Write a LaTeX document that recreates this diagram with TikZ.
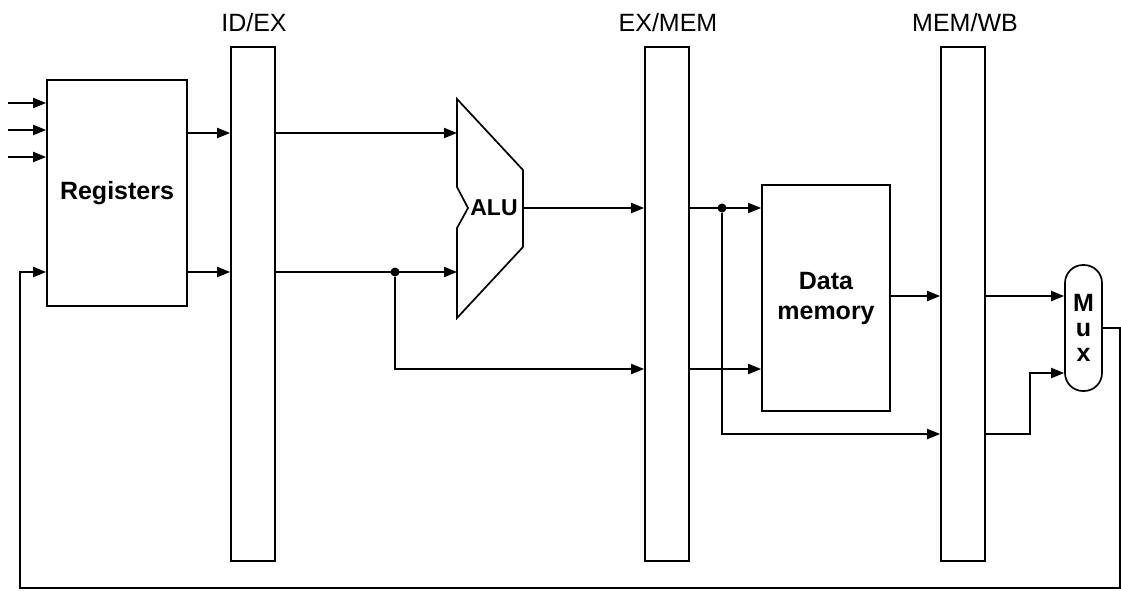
\documentclass[tikz,border=0pt]{standalone}
\usepackage{fontspec}
\setmainfont{Liberation Sans}
\usetikzlibrary{arrows.meta, positioning}

\begin{document}
\begin{tikzpicture}[
        x=1pt, y=-1pt,
        every node/.style={align=center, inner sep=0pt},
        unit/.style={rectangle, draw, line width=1.7pt, font=\fontsize{25}{30}\selectfont\bfseries},
        latch/.style={rectangle, draw, line width=1.7pt, minimum width=44pt, minimum height=514pt},
        stage/.style={anchor=base, font=\fontsize{25}{29}\selectfont},
        mux/.style={rectangle, draw, rounded corners=18pt, line width=1.7pt, minimum width=37pt, minimum height=126pt, font=\fontsize{25}{25}\selectfont\bfseries},
        arrow/.style={-{Triangle[length=13pt, width=10pt]}, line width=2pt},
        line/.style={-, line width=2pt},
        dot/.style={circle, fill, minimum size=9pt}
    ]
%
    \useasboundingbox (0,0) rectangle (1121,590);
%
    % Registre et barres de pipeline
    \node[unit, minimum width=140pt, minimum height=226pt] (regs) at (117,193) {Registers};
    \node[latch] (idex) at (253,304) {};
    \node[latch] (exmem) at (667,304) {};
    \node[latch] (memwb) at (963,304) {};
%
    \node[stage] (lidex) at (254,31) {ID/EX};
    \node[stage] (lexmem) at (668,31) {EX/MEM};
    \node[stage] (lmemwb) at (965,31) {MEM/WB};
%
    % ALU
    \draw[line width=1.7pt] (457,99) -- (523,170) -- (523,247) -- (457,318) -- (457,228) -- (468,208) -- (457,187) -- cycle;
    \node[font=\fontsize{23}{26}\selectfont\bfseries] (alu) at (494,208) {ALU};
    \coordinate (aluA) at (457,133);
    \coordinate (aluB) at (457,272);
    \coordinate (aluO) at (523,208);
%
    % Memoire et multiplexeur
    \node[unit, minimum width=128pt, minimum height=226pt] (dmem) at (826,298) {Data\\memory};
    \node[mux] (mux) at (1083.5,328) {M\\u\\x};
%
    % Entrees des registres
    \foreach \y [count=\i] in {103,130,157} {
        \coordinate (in\i) at (8,\y);
        \draw[arrow] (in\i) -- (regs.west |- in\i);
    }
%
    % Etage EX
    \draw[arrow] (regs.east |- aluA) -- (idex.west |- aluA);
    \draw[arrow] (regs.east |- aluB) -- (idex.west |- aluB);
    \draw[arrow] (idex.east |- aluA) -- (aluA);
    \draw[arrow] (idex.east |- aluB) -- (aluB);
    \node[dot] (fork1) at (395,272) {};
    \coordinate (rowC) at (0,369);
    \draw[arrow] (fork1) |- (exmem.west |- rowC);
    \draw[arrow] (aluO) -- (exmem.west |- aluO);
%
    % Etage MEM
    \coordinate (rowD) at (0,434);
    \node[dot] (fork2) at (722,208) {};
    \draw[arrow] (exmem.east |- aluO) -- (dmem.west |- aluO);
    \draw[arrow] (fork2) |- (memwb.west |- rowD);
    \draw[arrow] (exmem.east |- rowC) -- (dmem.west |- rowC);
    \draw[arrow] (dmem.east |- 0,296) -- (memwb.west |- 0,296);
%
    % Etage WB
    \coordinate (bend) at (1030,373);
    \draw[arrow] (memwb.east |- 0,296) -- (mux.west |- 0,296);
    \draw[arrow] (memwb.east |- rowD) -| (bend) -- (mux.west |- bend);
%
    % Retour vers les registres
    \coordinate (fbR) at (1120,588);
    \coordinate (fbL) at (20,272);
    \draw[arrow] (mux.east) -| (fbR) -| (fbL) -- (regs.west |- fbL);
%
\end{tikzpicture}
\end{document}
